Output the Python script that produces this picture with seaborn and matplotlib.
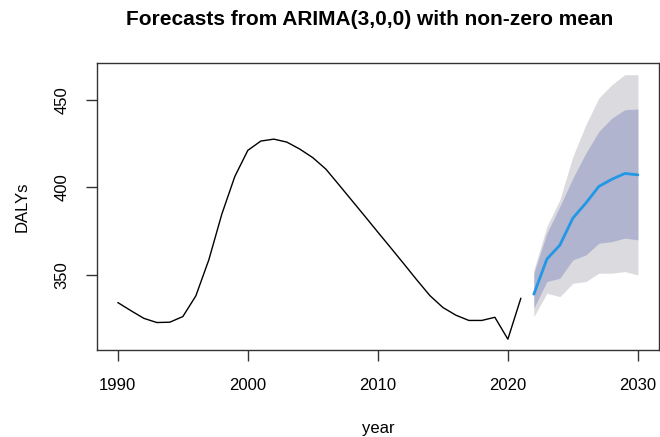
import numpy as np
import pandas as pd
import matplotlib
matplotlib.use("Agg")
import matplotlib.pyplot as plt
import seaborn as sns

# historical series
years = list(range(1990, 2022))
dalys = [334.2, 329.6, 325.2, 322.8, 323.0, 326.2, 338.0, 358.6, 384.7, 406.2,
         421.1, 426.4, 427.5, 425.8, 421.8, 416.9, 410.4, 401.5, 392.5, 383.5,
         374.4, 365.4, 356.3, 347.1, 338.2, 331.4, 327.0, 324.0, 324.0, 325.8,
         313.3, 336.7]

# forecast + intervals
fc_years = list(range(2022, 2031))
fc_mean = [339.0, 359.0, 367.0, 382.4, 391.0, 400.5, 404.6, 407.9, 407.1]
lo80 = [331.0, 346.2, 348.1, 358.6, 361.4, 368.1, 369.0, 371.0, 370.0]
hi80 = [351.0, 373.8, 389.1, 405.2, 419.5, 431.9, 439.5, 444.3, 444.7]
lo95 = [326.2, 339.5, 337.6, 345.2, 346.2, 351.0, 351.0, 351.9, 350.0]
hi95 = [352.9, 377.6, 392.9, 417.6, 435.7, 451.0, 458.6, 464.3, 464.3]

hist = pd.DataFrame({"year": years, "DALYs": dalys})
fc = pd.DataFrame({"year": fc_years, "mean": fc_mean,
                   "lo80": lo80, "hi80": hi80, "lo95": lo95, "hi95": hi95})

sns.set_style("ticks")
plt.rcParams["font.family"] = ["Liberation Sans", "DejaVu Sans"]

fig = plt.figure(figsize=(6.6, 4.37), dpi=100)
ax = fig.add_axes([0.147, 0.199, 0.851, 0.657])

ax.fill_between(fc["year"], fc["lo95"], fc["hi95"], color="#DADADF", linewidth=0)
ax.fill_between(fc["year"], fc["lo80"], fc["hi80"], color="#B0B4CF", linewidth=0)
sns.lineplot(data=hist, x="year", y="DALYs", color="black", linewidth=1.0, ax=ax)
sns.lineplot(data=fc, x="year", y="mean", color="#2297E6", linewidth=2, ax=ax)

ax.set_xlim(1988.4, 2031.6)
ax.set_ylim(307.1, 471.0)
ax.set_xticks([1990, 2000, 2010, 2020, 2030])
ax.set_yticks([350, 400, 450])
ax.set_yticklabels(["350", "400", "450"], rotation=90, va="center")

for s in ax.spines.values():
    s.set_color("#333333")
    s.set_linewidth(1)
ax.tick_params(axis="both", length=8, width=1, color="#333333",
               labelsize=12, labelcolor="black", pad=12)

ax.set_xlabel("year", fontsize=12, labelpad=20, color="black")
ax.set_ylabel("DALYs", fontsize=12, labelpad=18, color="black")
ax.set_title("Forecasts from ARIMA(3,0,0) with non-zero mean",
             fontsize=15, fontweight="bold", pad=27, color="black", x=0.485)

fig.savefig("out.png", dpi=100)
